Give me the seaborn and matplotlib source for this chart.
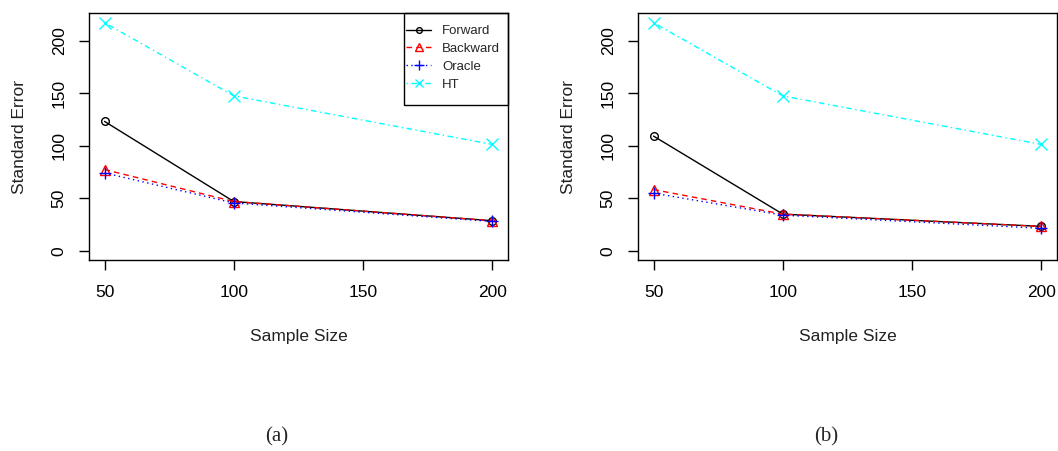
import matplotlib
matplotlib.use("Agg")
import matplotlib.pyplot as plt
from matplotlib.lines import Line2D
from matplotlib.patches import Rectangle
import seaborn as sns
import pandas as pd

sample_size = [50, 100, 200]
series_names = ["Forward", "Backward", "Oracle", "HT"]

# panel (a)
a_forward = [123.4, 47.0, 28.7]
a_backward = [77.5, 47.0, 28.7]
a_oracle = [74.3, 45.6, 28.0]
a_ht = [217.5, 147.7, 101.4]

# panel (b)
b_forward = [109.4, 35.0, 23.3]
b_backward = [58.4, 35.0, 23.3]
b_oracle = [55.0, 34.0, 21.5]
b_ht = [217.5, 147.7, 101.4]

x_ticks = [50, 100, 150, 200]
y_ticks = [0, 50, 100, 150, 200]
panel_labels = ["(a)", "(b)"]

colors = {"Forward": "black", "Backward": "red", "Oracle": "blue", "HT": "cyan"}
styles = {"Forward": "-", "Backward": (0, (4, 3)), "Oracle": (0, (1, 2.5)), "HT": (0, (1, 2.5, 4, 2.5))}
markers = {"Forward": "o", "Backward": "^", "Oracle": "+", "HT": "x"}
msizes = {"Forward": 5.5, "Backward": 7.5, "Oracle": 9, "HT": 8}

sns.set_theme(style="ticks")
plt.rcParams["font.family"] = ["Liberation Sans", "DejaVu Sans"]

def long_df(fw, bw, orc, ht):
    rows = []
    for name, vals in zip(series_names, [fw, bw, orc, ht]):
        for x, v in zip(sample_size, vals):
            rows.append({"Sample Size": x, "Standard Error": v, "Method": name})
    return pd.DataFrame(rows)

dfs = [long_df(a_forward, a_backward, a_oracle, a_ht),
       long_df(b_forward, b_backward, b_oracle, b_ht)]

W, H = 1058, 451
fig = plt.figure(figsize=(W / 100, H / 100), dpi=100)
ax_rects = [[89 / W, 1 - 260 / H, 419 / W, 247 / H],
            [638 / W, 1 - 260 / H, 419 / W, 247 / H]]
label_x = [277, 826]

for i, df in enumerate(dfs):
    ax = fig.add_axes(ax_rects[i])
    for name in series_names:
        sub = df[df["Method"] == name]
        sns.lineplot(data=sub, x="Sample Size", y="Standard Error", ax=ax,
                     color=colors[name], linestyle=styles[name], linewidth=1.0,
                     marker=markers[name], markersize=msizes[name],
                     markerfacecolor="none", markeredgecolor=colors[name],
                     markeredgewidth=1.0, legend=False, errorbar=None)
    ax.set_xlim(44, 206)
    ax.set_ylim(-8.72, 226.72)
    ax.set_xticks(x_ticks)
    ax.set_yticks(y_ticks)
    ax.set_xticklabels([str(t) for t in x_ticks])
    ax.set_yticklabels([str(t) for t in y_ticks], rotation=90, va="center")
    ax.tick_params(axis="x", direction="out", length=7, width=1, colors="black",
                   labelsize=12.5, pad=11)
    ax.tick_params(axis="y", direction="out", length=7, width=1, colors="black",
                   labelsize=12.5, pad=9)
    for sp in ax.spines.values():
        sp.set_visible(True)
        sp.set_color("black")
        sp.set_linewidth(1.0)
    ax.set_xlabel("Sample Size", fontsize=12.5, labelpad=21, color="#222222")
    ax.set_ylabel("Standard Error", fontsize=12.5, labelpad=18, color="#222222")
    ax.set_facecolor("white")
    fig.text(label_x[i] / W, 1 - 437 / H, panel_labels[i], ha="center", va="center",
             fontsize=15, family=["Liberation Serif", "DejaVu Serif"])
    if i == 0:
        handles = [Line2D([0], [0], color=colors[n], linestyle=styles[n], linewidth=1.0,
                          marker=markers[n], markersize=msizes[n] * 0.75,
                          markerfacecolor="none", markeredgecolor=colors[n])
                   for n in series_names]
        leg = ax.legend(handles, series_names, loc="upper left",
                        bbox_to_anchor=(406 / W, 1 - 25 / H), bbox_transform=fig.transFigure,
                        fontsize=9.5, frameon=False, borderaxespad=0, borderpad=0,
                        handlelength=1.9, handletextpad=0.85, labelspacing=0.42)
        rect = Rectangle((404 / W, 1 - 105 / H), 104 / W, 92 / H, transform=fig.transFigure,
                         fill=False, edgecolor="black", linewidth=1.0, zorder=5)
        fig.patches.append(rect)

fig.savefig("out.png", dpi=100, facecolor="white")
